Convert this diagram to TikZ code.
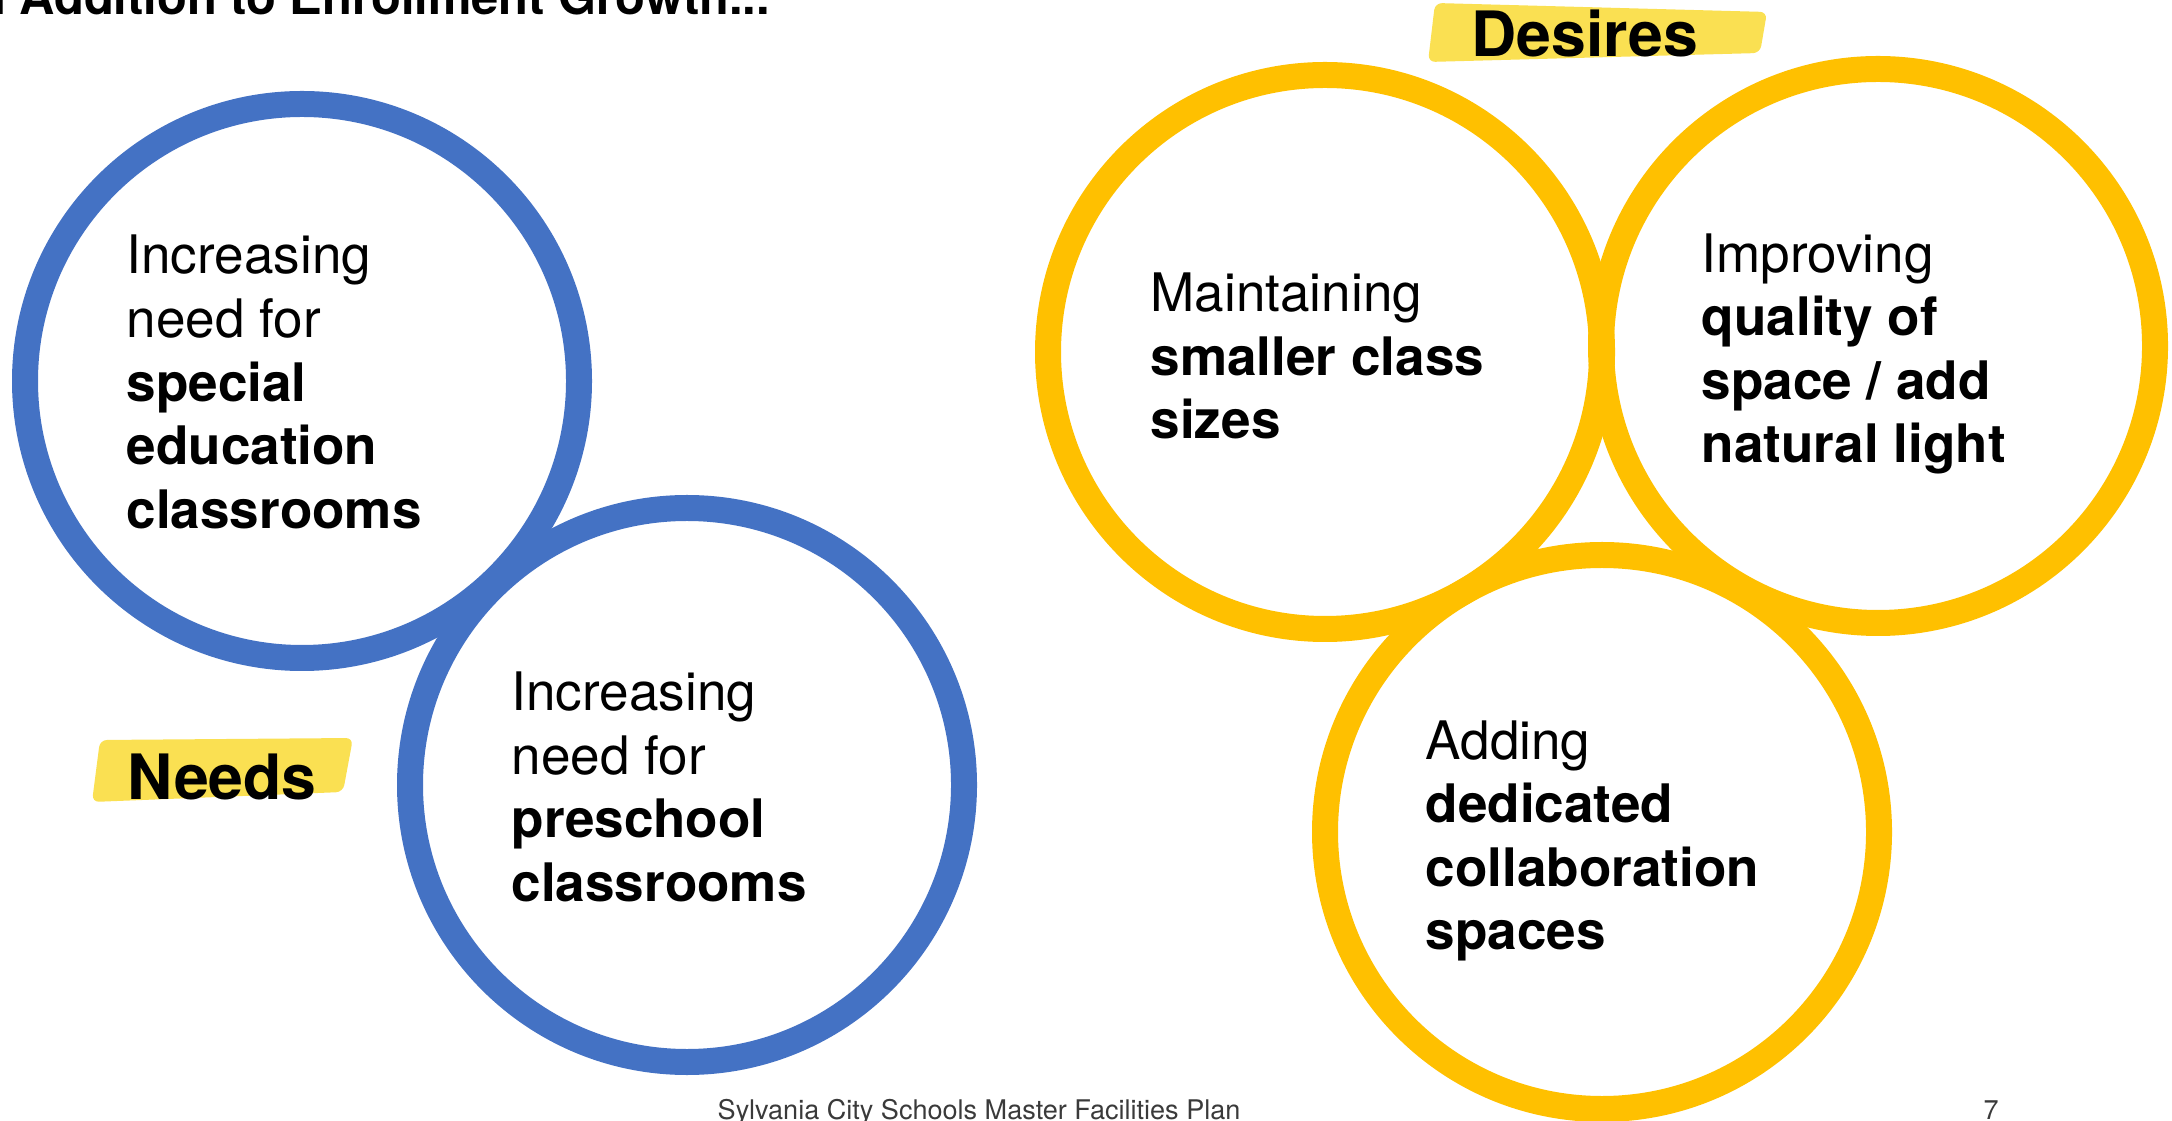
\documentclass[tikz,border=0pt]{standalone}
\usepackage{fontspec}
\setmainfont{TeX Gyre Heros}
\definecolor{ringblue}{HTML}{4472C4}
\definecolor{ringgold}{HTML}{FFC000}
\definecolor{marker}{HTML}{FAE052}
\definecolor{footgray}{HTML}{3A3A3A}

\begin{document}
\begin{tikzpicture}[
        ring/.style={line width=0.26cm},
        body/.style={inner sep=0pt, anchor=west, align=left, font=\fontsize{15.1}{18.1}\selectfont},
        tag/.style={inner sep=0pt, anchor=base west, font=\bfseries\fontsize{17.8}{20}\selectfont},
        hl/.style={fill=marker, rounded corners=2pt}
    ]

            % 画布大小
            \useasboundingbox (0,0) rectangle (21.72,11.2);
            \clip (0,0) rectangle (21.72,11.2);

            % 圆心
            \coordinate (b1) at (3.02,7.39);   % 特殊教育
            \coordinate (b2) at (6.87,3.35);   % 学前教室
            \coordinate (y1) at (13.25,7.68);  % 小班
            \coordinate (y2) at (18.78,7.74);  % 空间质量
            \coordinate (y3) at (16.02,2.88);  % 协作空间

            % 蓝色圆环 (Needs)
            \draw[ring, ringblue] (b1) circle (2.77);
            \draw[ring, ringblue] (b2) circle (2.77);

            % 黄色圆环 (Desires)
            \draw[ring, ringgold] (y1) circle (2.77);
            \draw[ring, ringgold] (y2) circle (2.77);
            \draw[ring, ringgold] (y3) circle (2.77);

            % 圆内文字
            \node[body] (tb1) at (1.26,7.38) {Increasing\\need for\\\textbf{special}\\\textbf{education}\\\textbf{classrooms}};
            \node[body] (tb2) at (5.11,3.33) {Increasing\\need for\\\textbf{preschool}\\\textbf{classrooms}};
            \node[body] (ty1) at (11.50,7.64) {Maintaining\\\textbf{smaller class}\\\textbf{sizes}};
            \node[body] (ty2) at (17.01,7.66) {Improving\\\textbf{quality of}\\\textbf{space / add}\\\textbf{natural light}};
            \node[body] (ty3) at (14.25,2.79) {Adding\\\textbf{dedicated}\\\textbf{collaboration}\\\textbf{spaces}};

            % 荧光笔标签
            \fill[hl] (14.35,11.17) -- (17.67,11.08) -- (17.60,10.67) -- (14.28,10.58) -- cycle;
            \fill[hl] (1.00,3.80) -- (3.53,3.82) -- (3.43,3.28) -- (0.92,3.18) -- cycle;
            \node[tag] (desires) at (14.71,10.63) {Desires};
            \node[tag] (needs) at (1.27,3.21) {Needs};

            % 标题 (被裁掉一部分)
            \node[inner sep=0pt, anchor=base west, font=\bfseries\fontsize{13.9}{16}\selectfont] (title) at (-0.38,11.05) {In Addition to Enrollment Growth...};

            % 页脚
            \node[inner sep=0pt, anchor=base west, text=footgray, font=\fontsize{7.7}{9}\selectfont] (foot) at (7.17,0.01) {Sylvania City Schools Master Facilities Plan};
            \node[inner sep=0pt, anchor=base west, text=footgray, font=\fontsize{7.7}{9}\selectfont] (page) at (19.83,0.01) {7};

        \end{tikzpicture}
\end{document}
